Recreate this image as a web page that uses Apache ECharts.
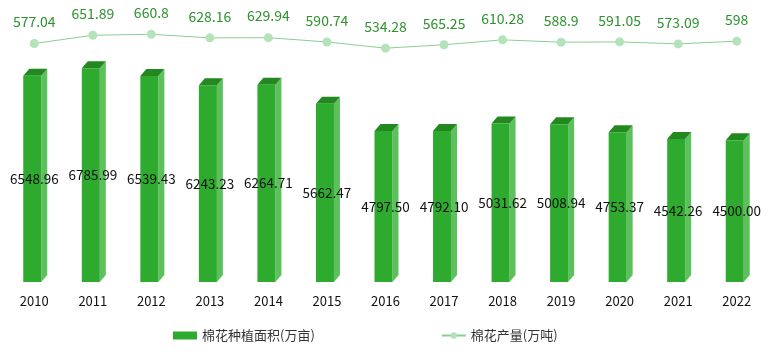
<!DOCTYPE html>
<html>
<head>
<meta charset="utf-8">
<script src="https://cdn.jsdelivr.net/npm/echarts@6/dist/echarts.min.js"></script>
<style>
  html, body { margin: 0; padding: 0; background: #fff; }
  #chart { width: 770px; height: 353px; }
</style>
</head>
<body>
<div id="chart"></div>
<script>
// 数据
var years = ['2010', '2011', '2012', '2013', '2014', '2015', '2016', '2017', '2018', '2019', '2020', '2021', '2022'];
var plantArea = [6548.96, 6785.99, 6539.43, 6243.23, 6264.71, 5662.47, 4797.50, 4792.10, 5031.62, 5008.94, 4753.37, 4542.26, 4500.00];
var output = [577.04, 651.89, 660.8, 628.16, 629.94, 590.74, 534.28, 565.25, 610.28, 588.9, 591.05, 573.09, 598];

var chart = echarts.init(document.getElementById('chart'));

var font = '"Noto Sans CJK SC", "Microsoft YaHei", sans-serif';

// 立体柱子
function renderBar(params, api) {
    var top = api.coord([api.value(0), api.value(1)]);
    var base = api.coord([api.value(0), 0]);
    var x0 = top[0] - 11, x1 = top[0] + 7;
    var dx = 6, dy = 7;
    return {
        type: 'group',
        children: [
            {
                type: 'polygon',
                shape: { points: [[x1, top[1]], [x1 + dx, top[1] - dy], [x1 + dx, base[1] - dy], [x1, base[1]]] },
                style: { fill: '#5cc15c' }
            },
            {
                type: 'polygon',
                shape: { points: [[x0, top[1]], [x1, top[1]], [x1 + dx, top[1] - dy], [x0 + dx, top[1] - dy]] },
                style: { fill: '#22881f' }
            },
            {
                type: 'rect',
                shape: { x: x0, y: top[1], width: x1 - x0, height: base[1] - top[1] },
                style: { fill: '#2eaa2e' }
            }
        ]
    };
}

var option = {
    animation: false,
    textStyle: { fontFamily: font },
    grid: { left: 5, right: 4, top: 30, bottom: 71 },
    legend: {
        left: 168,
        bottom: 6,
        itemGap: 126,
        itemWidth: 24,
        itemHeight: 8,
        textStyle: { fontSize: 13, color: '#333', fontFamily: font },
        data: [
            { name: '棉花种植面积(万亩)', icon: 'rect' },
            { name: '棉花产量(万吨)' }
        ]
    },
    xAxis: {
        type: 'category',
        data: years,
        axisLine: { show: false },
        axisTick: { show: false },
        axisLabel: { fontSize: 13, color: '#111', margin: 13, fontFamily: font }
    },
    yAxis: [
        { type: 'value', min: 0, max: 8000, show: false, splitLine: { show: false } },
        { type: 'value', min: -1600, max: 700, show: false, splitLine: { show: false } }
    ],
    series: [
        {
            name: '棉花种植面积(万亩)',
            type: 'custom',
            renderItem: renderBar,
            itemStyle: { color: '#2eaa2e' },
            encode: { x: 0, y: 1 },
            data: plantArea.map(function (v, i) { return [i, v]; }),
            z: 2
        },
        {
            name: 'labels',
            type: 'bar',
            silent: true,
            barWidth: 20,
            itemStyle: { color: 'rgba(0,0,0,0)' },
            label: {
                show: true,
                position: 'inside',
                color: '#111',
                fontSize: 13.5,
                fontFamily: font,
                formatter: function (p) { return p.value.toFixed(2); }
            },
            data: plantArea,
            z: 3
        },
        {
            name: '棉花产量(万吨)',
            type: 'line',
            yAxisIndex: 1,
            symbol: 'circle',
            symbolSize: 9,
            lineStyle: { color: '#88cf94', width: 1 },
            itemStyle: { color: '#b4e3ba' },
            label: {
                show: true,
                position: 'top',
                distance: 10,
                color: '#2e922e',
                fontSize: 14,
                fontFamily: font
            },
            data: output
        }
    ]
};

chart.setOption(option);
</script>
</body>
</html>
